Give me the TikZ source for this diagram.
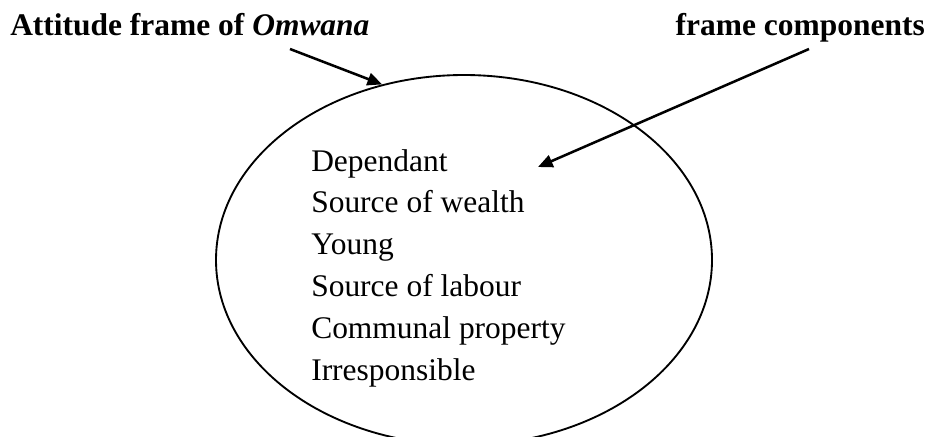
\documentclass[tikz,border=0pt]{standalone}
\usepackage{fontspec}
\setmainfont{Liberation Serif}
\usetikzlibrary{shapes.geometric,arrows.meta}

\tikzset{
  heading/.style={font=\fontsize{23.6}{28}\selectfont\bfseries, inner sep=0pt},
  item/.style={font=\fontsize{23.6}{28}\selectfont, inner sep=0pt, anchor=base west},
  pointer/.style={line width=1.9pt, -{Triangle[length=11pt,width=9.5pt]}},
  frameoval/.style={ellipse, draw, line width=1.4pt, inner sep=0pt,
    minimum width=372pt, minimum height=277.5pt}
}

\begin{document}
\begin{tikzpicture}[x=0.75pt, y=-0.75pt]
  \useasboundingbox (0,0) rectangle (938,436);
  \clip (0,0) rectangle (938,436);

  % headings
  \node[heading, anchor=base west] (attitude) at (10,35) {Attitude frame of \textit{Omwana}};
  \node[heading, anchor=base east] (components) at (925,35) {frame components};

  % the frame itself
  \node[frameoval] (oval) at (464,260) {};

  % its components, one per line
  \node[item] (i1) at (311,171) {Dependant};
  \node[item] (i2) at (311,212.8) {Source of wealth};
  \node[item] (i3) at (311,254.6) {Young};
  \node[item] (i4) at (311,296.4) {Source of labour};
  \node[item] (i5) at (311,338.2) {Communal property};
  \node[item] (i6) at (311,380) {Irresponsible};

  % pointers
  \coordinate (fromAtt) at (290,49);
  \coordinate (fromComp) at (809,49);
  \coordinate (toItems) at (538,167);
  \draw[pointer] (fromAtt) -- (oval.115.8);
  \draw[pointer] (fromComp) -- (toItems);
\end{tikzpicture}
\end{document}
